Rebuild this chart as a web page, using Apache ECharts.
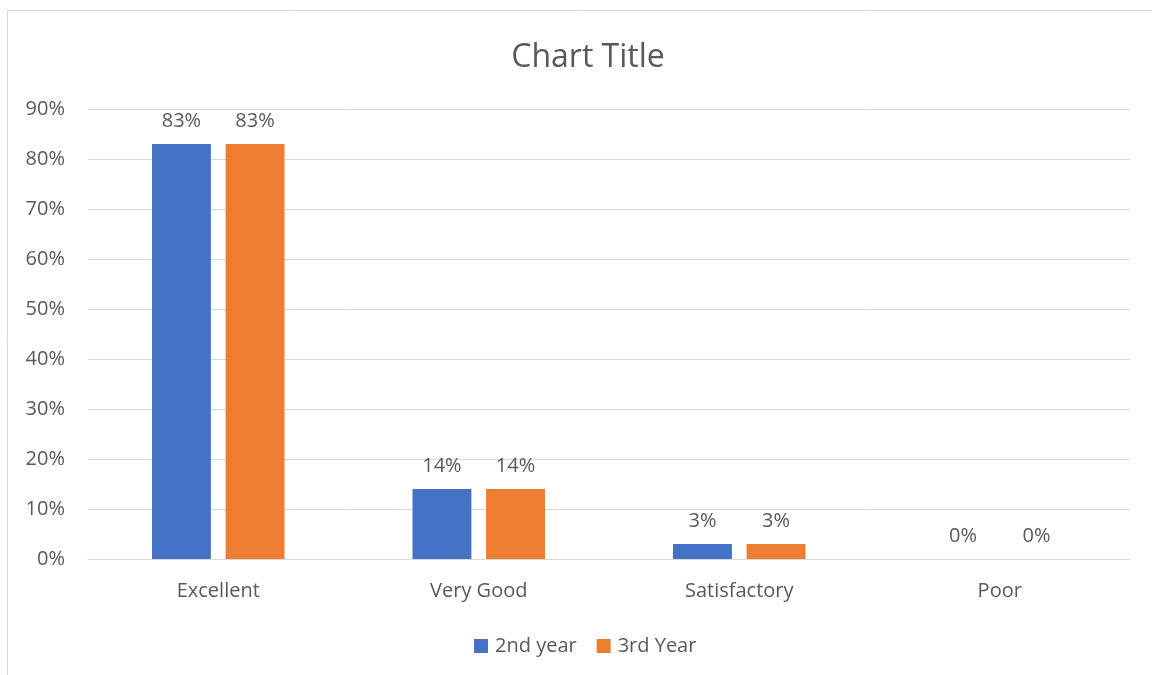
<!DOCTYPE html>
<html>
<head>
<meta charset="utf-8">
<script src="https://cdn.jsdelivr.net/npm/echarts@6/dist/echarts.min.js"></script>
<style>
html,body{margin:0;padding:0;background:#fff;}
#c{width:1152px;height:675px;}
</style>
</head>
<body>
<div id="c"></div>
<script>
const categories = ["Excellent", "Very Good", "Satisfactory", "Poor"];
const secondYear = [83, 14, 3, 0];
const thirdYear = [83, 14, 3, 0];
const seriesNames = ["2nd year", "3rd Year"];
const yTicks = [0, 10, 20, 30, 40, 50, 60, 70, 80, 90];

const font = "'Open Sans', 'Liberation Sans', sans-serif";
const txt = "#595959";
const fs = 20;
const chart = echarts.init(document.getElementById('c'), null, {renderer: 'canvas'});
const labelOpt = {
  show: true, position: 'top', distance: 13,
  color: txt, fontFamily: font, fontSize: fs,
  formatter: p => p.value + '%'
};
chart.setOption({
  animation: false,
  backgroundColor: '#fff',
  graphic: [{
    type: 'rect', silent: true,
    shape: {x: 7.5, y: 10.5, width: 1160, height: 680},
    style: {fill: 'none', stroke: '#d9d9d9', lineWidth: 1}
  }],
  title: {
    text: 'Chart Title', left: 583, top: 37, textAlign: 'center',
    textStyle: {color: txt, fontFamily: font, fontSize: 32, fontWeight: 'normal'}
  },
  legend: {
    data: seriesNames, left: 469, top: 631, itemWidth: 14, itemHeight: 14,
    itemGap: 20, icon: 'rect',
    textStyle: {color: txt, fontFamily: font, fontSize: fs, padding: [0, 0, 0, 2]}
  },
  grid: {left: 88, right: 22, top: 109, bottom: 116, containLabel: false},
  xAxis: {
    type: 'category', data: categories,
    axisLine: {lineStyle: {color: '#d9d9d9', width: 1}},
    axisTick: {show: false},
    axisLabel: {color: txt, fontFamily: font, fontSize: fs, margin: 22}
  },
  yAxis: {
    type: 'value', min: yTicks[0], max: yTicks[yTicks.length - 1], interval: 10,
    axisLine: {show: false}, axisTick: {show: false},
    splitLine: {lineStyle: {color: '#d9d9d9', width: 1}},
    axisLabel: {color: txt, fontFamily: font, fontSize: fs, margin: 23, formatter: v => v + '%'}
  },
  series: [
    {name: seriesNames[0], type: 'bar', data: secondYear, barWidth: '22.6%', barGap: '25%',
     itemStyle: {color: '#4472c4'}, label: labelOpt},
    {name: seriesNames[1], type: 'bar', data: thirdYear, barWidth: '22.6%', barGap: '25%',
     itemStyle: {color: '#ed7d31'}, label: labelOpt}
  ]
});
</script>
</body>
</html>
